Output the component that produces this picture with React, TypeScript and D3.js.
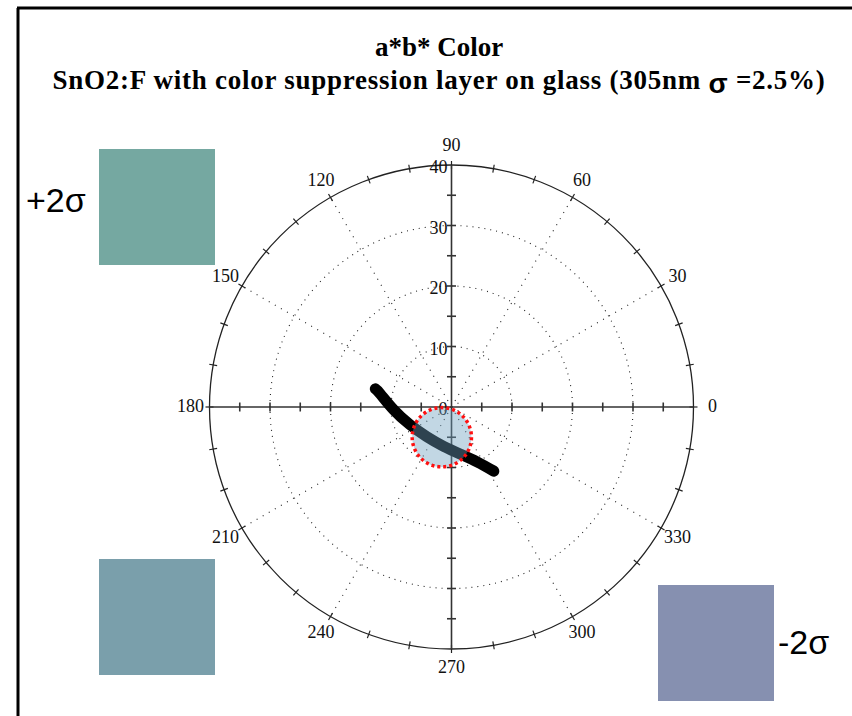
import React, { useEffect, useRef } from 'react';
import * as d3 from 'd3';

// a*b* trace (a* horizontal, b* vertical)
const traceA = [-12.6, -11.8, -9.6, -6.9, -4.1, -1.3, 1.5, 4.3, 7.0];
const traceB = [3.0, 2.2, -0.4, -2.9, -4.9, -6.5, -7.8, -9.1, -10.6];

// target region (centre and radius in a*b* units)
const targetA = -1.6;
const targetB = -5.0;
const targetR = 4.9;

const radialTicks = [10, 20, 30, 40];
const radialLabels = [0, 10, 20, 30, 40];
const angleLabels = [0, 30, 60, 90, 120, 150, 180, 210, 240, 270, 300, 330];
const spokeAngles = [30, 60, 120, 150, 210, 240, 300, 330];

const swatches = [
    { label: '+2σ', color: '#75a8a1' },
    { label: '', color: '#7a9fab' },
    { label: '-2σ', color: '#8690b0' },
];

export default function App() {
    const svgRef = useRef<SVGSVGElement | null>(null);

    useEffect(() => {
        document.body.style.margin = '0';
        const width = 852;
        const height = 716;
        const cx = 451.5;
        const cy = 407;
        const R = 242;

        const svg = d3.select(svgRef.current);
        svg.selectAll('*').remove();

        const r = d3.scaleLinear().domain([0, 40]).range([0, R]);
        const px = (a: number) => cx + r(a);
        const py = (b: number) => cy - r(b);
        const rad = (deg: number) => (deg * Math.PI) / 180;

        // frame
        svg.append('line').attr('x1', 18).attr('x2', 18).attr('y1', 8).attr('y2', height)
            .attr('stroke', '#000').attr('stroke-width', 3);
        svg.append('line').attr('x1', 17).attr('x2', width).attr('y1', 8).attr('y2', 8)
            .attr('stroke', '#000').attr('stroke-width', 3);

        // title
        const title = svg.append('text')
            .attr('x', 439)
            .attr('text-anchor', 'middle')
            .style('font-family', '"Liberation Serif", "Times New Roman", serif')
            .style('font-weight', 'bold')
            .style('font-size', '27px');
        title.append('tspan').attr('x', 439).attr('y', 56).text('a*b* Color');
        const t2 = title.append('tspan').attr('x', 439).attr('y', 89).style('letter-spacing', '0.75px');
        t2.append('tspan').text('SnO2:F with color suppression layer on glass (305nm ');
        t2.append('tspan').attr('dy', 4).style('font-family', '"Liberation Sans", Arial, sans-serif')
            .style('font-size', '28px').text('σ');
        t2.append('tspan').attr('dy', -4).text(' =2.5%)');

        const g = svg.append('g');

        // dotted grid circles
        radialTicks.slice(0, 3).forEach(v => {
            g.append('circle').attr('cx', cx).attr('cy', cy).attr('r', r(v))
                .attr('fill', 'none').attr('stroke', '#222').attr('stroke-width', 1.1)
                .attr('stroke-dasharray', '1 5');
        });

        // dotted spokes
        spokeAngles.forEach(a => {
            g.append('line')
                .attr('x1', cx).attr('y1', cy)
                .attr('x2', cx + R * Math.cos(rad(a))).attr('y2', cy - R * Math.sin(rad(a)))
                .attr('stroke', '#222').attr('stroke-width', 1.1)
                .attr('stroke-dasharray', '1 6');
        });

        // outer circle
        g.append('circle').attr('cx', cx).attr('cy', cy).attr('r', R)
            .attr('fill', 'none').attr('stroke', '#222').attr('stroke-width', 1.3);

        // ticks on outer circle every 10 degrees
        d3.range(0, 360, 10).forEach(a => {
            const c = Math.cos(rad(a));
            const s = Math.sin(rad(a));
            g.append('line')
                .attr('x1', cx + (R - 4) * c).attr('y1', cy - (R - 4) * s)
                .attr('x2', cx + (R + 4) * c).attr('y2', cy - (R + 4) * s)
                .attr('stroke', '#222').attr('stroke-width', 1.2);
        });

        // axes
        g.append('line').attr('x1', px(-40)).attr('x2', px(40)).attr('y1', cy).attr('y2', cy)
            .attr('stroke', '#333').attr('stroke-width', 1.6);
        g.append('line').attr('x1', cx).attr('x2', cx).attr('y1', py(40)).attr('y2', py(-40))
            .attr('stroke', '#333').attr('stroke-width', 1.6);
        d3.range(-35, 40, 5).filter(v => v !== 0).forEach(v => {
            g.append('line').attr('x1', px(v)).attr('x2', px(v)).attr('y1', cy - 4.5).attr('y2', cy + 4.5)
                .attr('stroke', '#333').attr('stroke-width', 1.6);
            g.append('line').attr('x1', cx - 4.5).attr('x2', cx + 4.5).attr('y1', py(v)).attr('y2', py(v))
                .attr('stroke', '#333').attr('stroke-width', 1.6);
        });

        const serif = '"Liberation Serif", "Times New Roman", serif';

        // radial labels
        radialLabels.forEach(v => {
            g.append('text')
                .attr('x', cx - 4).attr('y', py(v) + 4)
                .attr('text-anchor', 'end')
                .attr('dominant-baseline', 'middle')
                .style('font-family', serif).style('font-size', '18px').style('fill', '#111')
                .text(v);
        });

        // angle labels
        angleLabels.forEach(a => {
            const lr = 261;
            g.append('text')
                .attr('x', cx + lr * Math.cos(rad(a)))
                .attr('y', cy - lr * Math.sin(rad(a)) + 1)
                .attr('text-anchor', 'middle')
                .attr('dominant-baseline', 'middle')
                .style('font-family', serif).style('font-size', '18px').style('fill', '#111')
                .text(a);
        });

        // trace
        const line = d3.line<number>()
            .x((_, i) => px(traceA[i]))
            .y((_, i) => py(traceB[i]))
            .curve(d3.curveNatural);
        g.append('path')
            .datum(traceA)
            .attr('d', line)
            .attr('fill', 'none')
            .attr('stroke', '#000')
            .attr('stroke-width', 11)
            .attr('stroke-linecap', 'round');

        // target circle
        g.append('circle')
            .attr('cx', px(targetA)).attr('cy', py(targetB)).attr('r', r(targetR))
            .attr('fill', '#6ea0be').attr('fill-opacity', 0.42);
        g.append('circle')
            .attr('cx', px(targetA)).attr('cy', py(targetB)).attr('r', r(targetR))
            .attr('fill', 'none')
            .attr('stroke', '#ff1010').attr('stroke-width', 3.5)
            .attr('stroke-dasharray', '3 3');

        // colour swatches
        const boxes = [
            { x: 99, y: 149 },
            { x: 99, y: 559 },
            { x: 658, y: 585 },
        ];
        swatches.forEach((s, i) => {
            svg.append('rect')
                .attr('x', boxes[i].x).attr('y', boxes[i].y)
                .attr('width', 116).attr('height', 116)
                .attr('fill', s.color);
        });
        const sans = '"Liberation Sans", Arial, Helvetica, sans-serif';
        svg.append('text').attr('x', 26).attr('y', 212)
            .style('font-family', sans).style('font-size', '34px').text(swatches[0].label);
        svg.append('text').attr('x', 778).attr('y', 654)
            .style('font-family', sans).style('font-size', '34px').text(swatches[2].label);
    }, []);

    return (
        <svg ref={svgRef} width={852} height={716} style={{ display: 'block', background: '#fff' }} />
    );
}
